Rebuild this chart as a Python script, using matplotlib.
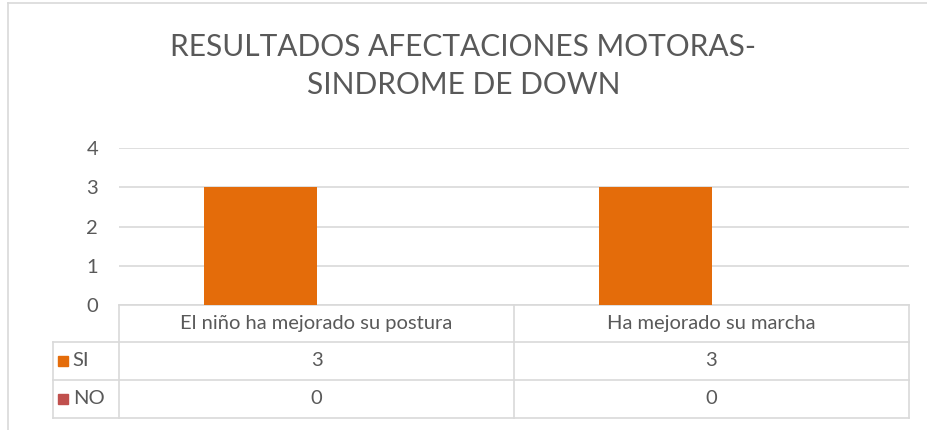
import matplotlib
matplotlib.use('Agg')
import matplotlib.pyplot as plt
from matplotlib.lines import Line2D
from matplotlib.transforms import blended_transform_factory

plt.rcParams['font.family'] = ['Lato', 'DejaVu Sans']

# datos
categorias = ['El niño ha mejorado su postura', 'Ha mejorado su marcha']
series = ['SI', 'NO']
valores_si = [3, 3]
valores_no = [0, 0]
titulo = 'RESULTADOS AFECTACIONES MOTORAS-\nSINDROME DE DOWN'

c_si = '#E46C0A'
c_no = '#C0504D'
c_grid = '#D9D9D9'
c_txt = '#595959'

W, H = 927, 430
fig = plt.figure(figsize=(W / 100, H / 100), dpi=100)

# marco del grafico
fig.add_artist(Line2D([8 / W, 8 / W], [0, 1 - 3 / H], color=c_grid, lw=1.2))
fig.add_artist(Line2D([8 / W, 1], [1 - 3 / H, 1 - 3 / H], color=c_grid, lw=1.2))

x0, x1 = 119, 909
y0, y1 = 305, 148
ax = fig.add_axes([x0 / W, (H - y0) / H, (x1 - x0) / W, (y0 - y1) / H])

n = len(categorias)
xs = list(range(n))
bw = 0.286
ax.bar([x - bw / 2 for x in xs], valores_si, width=bw, color=c_si, zorder=3)
ax.bar([x + bw / 2 for x in xs], valores_no, width=bw, color=c_no, zorder=3)

ax.set_xlim(-0.5, n - 0.5)
ax.set_ylim(0, 4)
ax.set_yticks(range(5))
ax.set_xticks([])
ax.yaxis.grid(True, color=c_grid, lw=1.2)
ax.set_axisbelow(True)
for s in ax.spines.values():
    s.set_visible(False)
ax.tick_params(axis='y', length=0, pad=15, labelsize=14.5, labelcolor=c_txt)

fig.text(0.5, 1 - 66 / H, titulo, ha='center', va='center', fontsize=21.5,
         color=c_txt, linespacing=1.42)

# tabla de datos
tr = blended_transform_factory(ax.transData, ax.transAxes)
hpx = y0 - y1
filas = [0, -(342 - y0) / hpx, -(380 - y0) / hpx, -(418 - y0) / hpx]
lab_x = -(x0 - 53) / (x1 - x0)
kw = dict(color=c_grid, lw=1.2, clip_on=False)

ax.plot([-0.5, n - 0.5], [filas[0]] * 2, transform=tr, **kw)
for f in filas[1:]:
    ax.plot([lab_x, 1], [f, f], transform=ax.transAxes, **kw)
ax.plot([0, 0], [filas[0], filas[3]], transform=ax.transAxes, **kw)
ax.plot([lab_x, lab_x], [filas[1], filas[3]], transform=ax.transAxes, **kw)
for k in range(1, n + 1):
    ax.plot([k - 0.5, k - 0.5], [filas[0], filas[3]], transform=tr, **kw)

for i, cat in enumerate(categorias):
    ax.text(i, (filas[0] + filas[1]) / 2, cat, transform=tr, ha='center',
            va='center', fontsize=14.5, color=c_txt)
    ax.text(i, (filas[1] + filas[2]) / 2, str(valores_si[i]), transform=tr,
            ha='center', va='center', fontsize=14.5, color=c_txt)
    ax.text(i, (filas[2] + filas[3]) / 2, str(valores_no[i]), transform=tr,
            ha='center', va='center', fontsize=14.5, color=c_txt)

for j, (nom, col) in enumerate(zip(series, [c_si, c_no])):
    ym = (filas[j + 1] + filas[j + 2]) / 2
    ax.plot([lab_x + 0.013], [ym], marker='s', ms=7.5, color=col,
            transform=ax.transAxes, clip_on=False, ls='none')
    ax.text(lab_x + 0.025, ym, nom, transform=ax.transAxes, ha='left',
            va='center', fontsize=14.5, color=c_txt)

fig.savefig('out.png', dpi=100)
